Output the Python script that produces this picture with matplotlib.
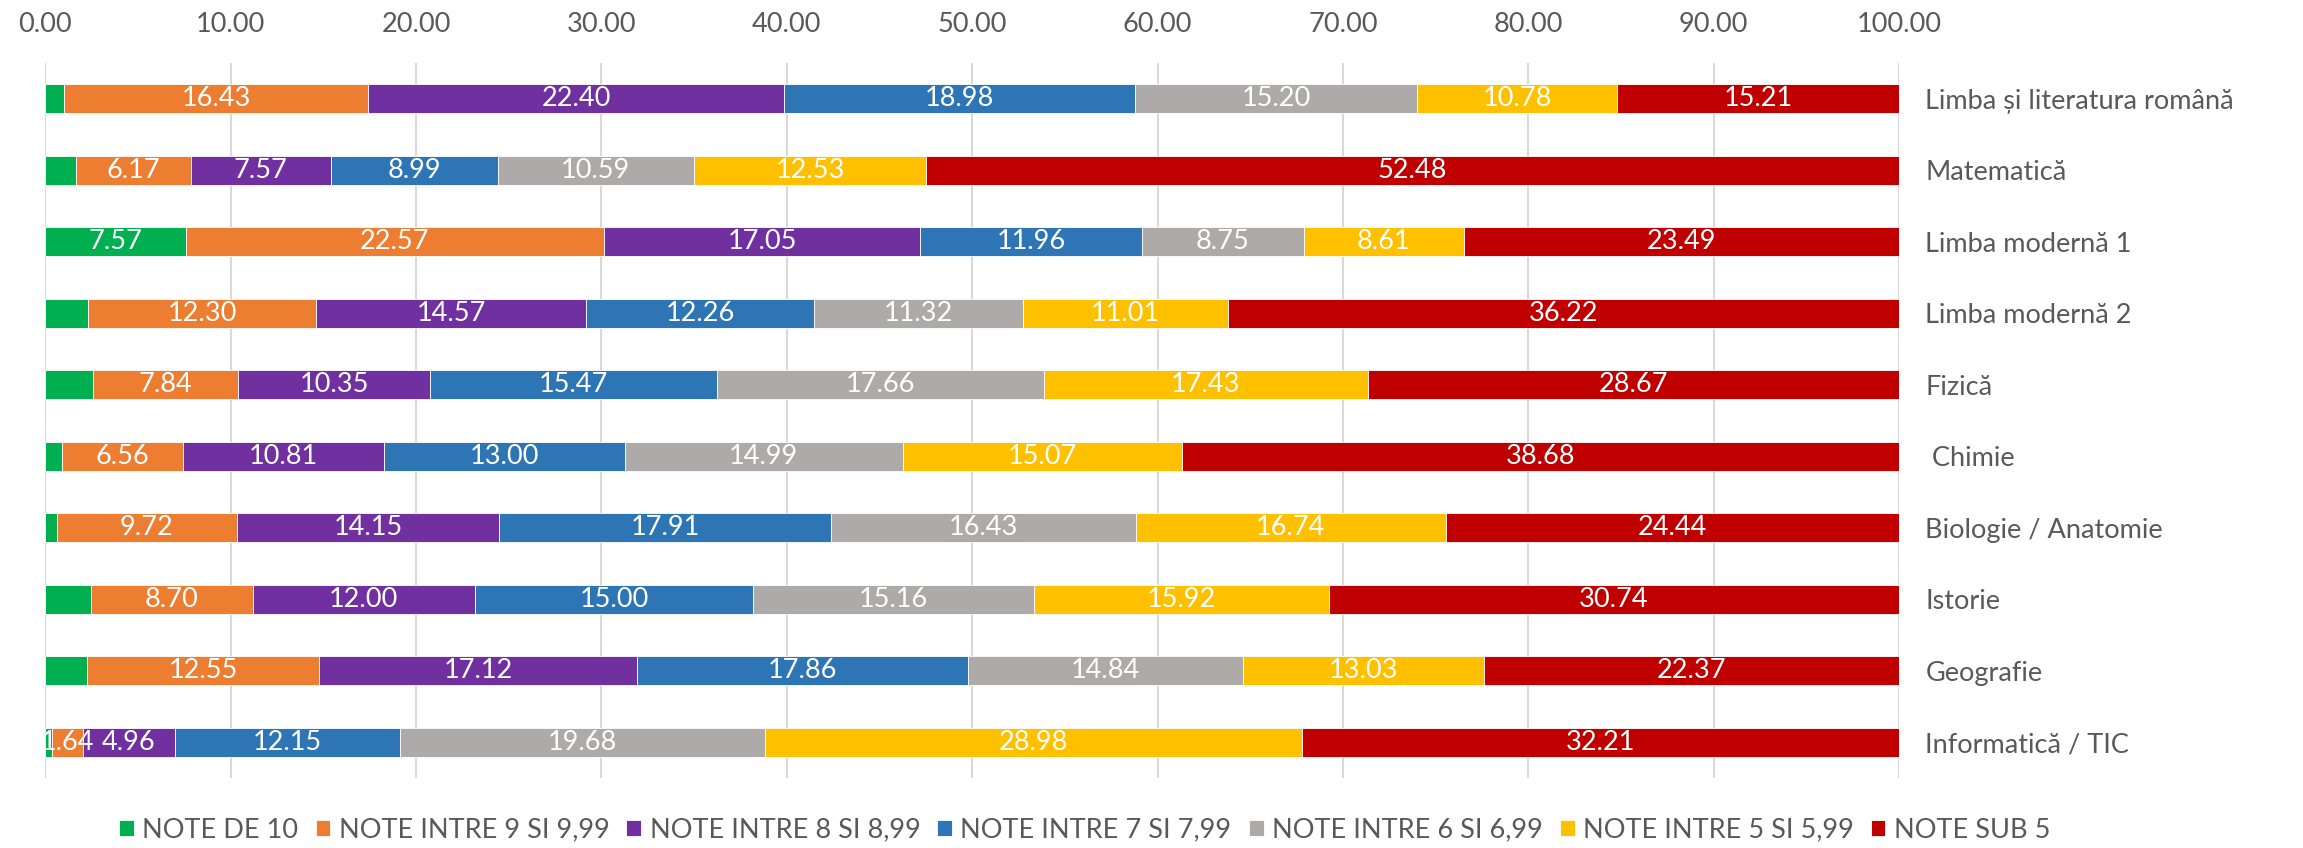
import matplotlib
matplotlib.use("Agg")
import matplotlib.pyplot as plt
import numpy as np

plt.rcParams['font.family'] = ['Lato', 'DejaVu Sans']

subjects = ["Limba și literatura română", "Matematică", "Limba modernă 1", "Limba modernă 2",
            "Fizică", " Chimie", "Biologie / Anatomie", "Istorie", "Geografie", "Informatică / TIC"]
series_names = ["NOTE DE 10", "NOTE INTRE 9 SI 9,99", "NOTE INTRE 8 SI 8,99", "NOTE INTRE 7 SI 7,99",
                "NOTE INTRE 6 SI 6,99", "NOTE INTRE 5 SI 5,99", "NOTE SUB 5"]
note_10 = [1.00, 1.67, 7.57, 2.32, 2.58, 0.89, 0.61, 2.48, 2.23, 0.38]
note_9 = [16.43, 6.17, 22.57, 12.30, 7.84, 6.56, 9.72, 8.70, 12.55, 1.64]
note_8 = [22.40, 7.57, 17.05, 14.57, 10.35, 10.81, 14.15, 12.00, 17.12, 4.96]
note_7 = [18.98, 8.99, 11.96, 12.26, 15.47, 13.00, 17.91, 15.00, 17.86, 12.15]
note_6 = [15.20, 10.59, 8.75, 11.32, 17.66, 14.99, 16.43, 15.16, 14.84, 19.68]
note_5 = [10.78, 12.53, 8.61, 11.01, 17.43, 15.07, 16.74, 15.92, 13.03, 28.98]
note_sub5 = [15.21, 52.48, 23.49, 36.22, 28.67, 38.68, 24.44, 30.74, 22.37, 32.21]
colors = ["#00B050", "#ED7D31", "#7030A0", "#2E75B6", "#AEAAAA", "#FFC000", "#C00000"]
xticks = [0, 10, 20, 30, 40, 50, 60, 70, 80, 90, 100]

series = [note_10, note_9, note_8, note_7, note_6, note_5, note_sub5]

fig = plt.figure(figsize=(23.03, 8.48), dpi=100)
ax = fig.add_axes([45.3 / 2303, 1 - 778 / 848, (1899 - 45.3) / 2303, (778 - 63) / 848])

y = np.arange(len(subjects))
left = np.zeros(len(subjects))
for si, (name, vals, c) in enumerate(zip(series_names, series, colors)):
    vals = np.array(vals)
    ax.barh(y, vals, left=left, height=0.40, color=c, edgecolor='white',
            linewidth=0.6, label=name, zorder=3)
    for yi, l, v in zip(y, left, vals):
        # the first series only shows labels on segments wide enough to hold them
        if si == 0 and v < 5:
            continue
        ax.text(l + v / 2, yi, f"{v:.2f}", ha='center', va='center', color='white',
                fontsize=19.5, zorder=5)
    left += vals

ax.set_xlim(0, 100)
ax.set_ylim(len(subjects) - 0.5, -0.5)
ax.set_xticks(xticks)
ax.set_xticklabels([f"{t:.2f}" for t in xticks])
ax.xaxis.tick_top()
ax.tick_params(axis='x', length=0, pad=19, labelsize=19.5, labelcolor='#595959')
ax.set_yticks(y)
ax.set_yticklabels(subjects)
ax.yaxis.tick_right()
ax.tick_params(axis='y', length=0, pad=19, labelsize=19.5, labelcolor='#595959')
for s in ax.spines.values():
    s.set_visible(False)
ax.grid(axis='x', color='#D9D9D9', linewidth=1.5, zorder=0)
ax.set_axisbelow(True)

leg = fig.legend(loc='center', bbox_to_anchor=(0.471, 1 - 830 / 848), ncol=7, frameon=False,
                 fontsize=19.5, handlelength=0.55, handleheight=0.55, handletextpad=0.3,
                 columnspacing=0.63, labelcolor='#595959')

fig.savefig("out.png", dpi=100)
